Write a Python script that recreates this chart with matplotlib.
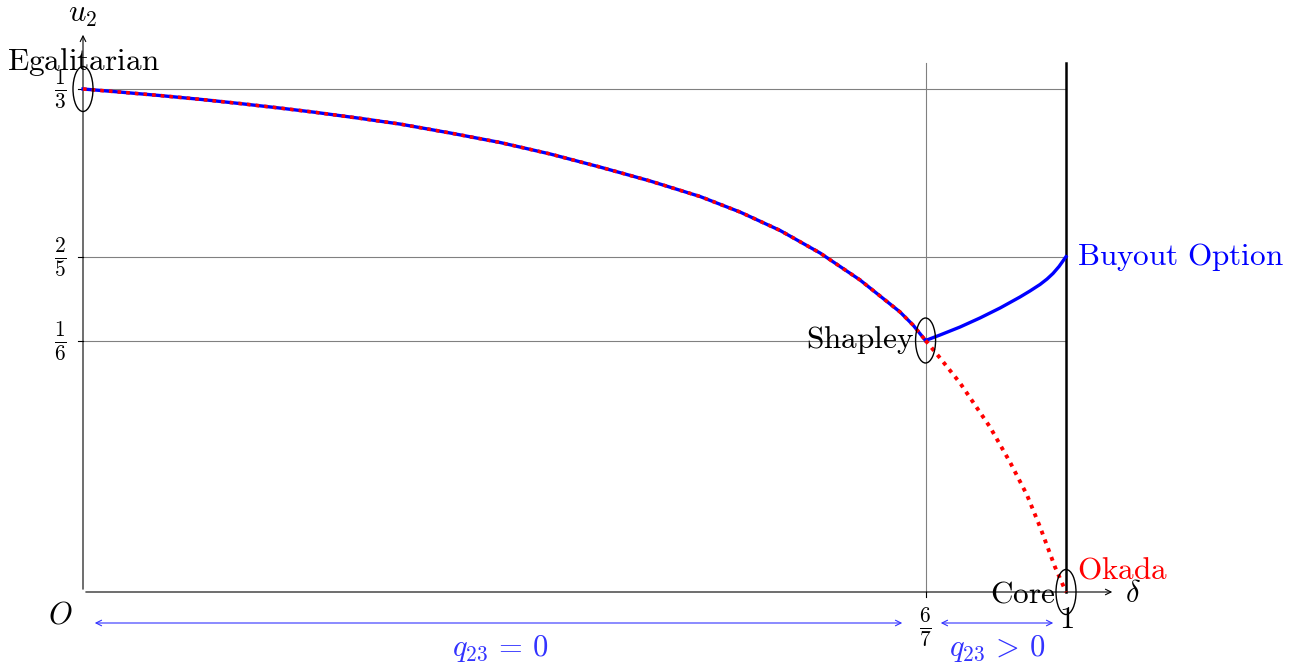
import matplotlib.pyplot as plt
from matplotlib.patches import Ellipse

plt.rcParams['mathtext.fontset'] = 'cm'

# main curve, shared by both solutions (delta, u2)
main_x = [0.0, 0.0376, 0.0783, 0.1190, 0.1597, 0.2004, 0.2360, 0.2818, 0.3225, 0.3734,
          0.4242, 0.4751, 0.5260, 0.5768, 0.6277, 0.6684, 0.7091, 0.7497, 0.7904,
          0.8311, 0.8444, 6/7]
main_y = [1/3, 0.3313, 0.3290, 0.3265, 0.3237, 0.3207, 0.3179, 0.3139, 0.3101, 0.3042,
          0.2979, 0.2903, 0.2816, 0.2724, 0.2621, 0.2518, 0.2396, 0.2247, 0.2068,
          0.1856, 0.1769, 1/6]

# buyout option branch
buy_x = [6/7, 0.8718, 0.8922, 0.9125, 0.9329, 0.9532, 0.9634, 0.9736, 0.9807, 0.9868, 0.9929, 1.0]
buy_y = [1/6, 0.1703, 0.1756, 0.1816, 0.1882, 0.1955, 0.1995, 0.2038, 0.2074, 0.2111, 0.2157, 2/9]

# okada branch
oka_x = [6/7, 0.8718, 0.8922, 0.9227, 0.9430, 0.9603, 0.9736, 0.9888, 1.0]
oka_y = [1/6, 0.1551, 0.1385, 0.1093, 0.0861, 0.0643, 0.0431, 0.0166, 0.0]

ytick_pos = [1/3, 2/9, 1/6]
ytick_lab = [r'$\frac{1}{3}$', r'$\frac{2}{5}$', r'$\frac{1}{6}$']

fig = plt.figure(figsize=(13.14, 6.69), dpi=100)
ax = fig.add_axes([0, 0, 1, 1])
ax.set_xlim(-83/983, (1314-83)/983)
ax.set_ylim((592-669)/1509, 592/1509)
ax.axis('off')

px = 1/983   # one pixel in x
py = 1/1509  # one pixel in y
top = (592-63)*py

# grid lines
for y in ytick_pos:
    ax.plot([0, 1], [y, y], color='#808080', lw=0.8, zorder=1)
ax.plot([6/7, 6/7], [0, top], color='#808080', lw=0.8, zorder=1)

# vertical line at delta = 1
ax.plot([1, 1], [0, top], color='black', lw=1.8, zorder=2)

# axes with arrows
ax.annotate('', xy=(0, (592-32)*py), xytext=(0, 0),
            arrowprops=dict(arrowstyle='->', color='black', lw=0.8))
ax.annotate('', xy=((1115-83)*px, 0), xytext=(0, 0),
            arrowprops=dict(arrowstyle='->', color='black', lw=0.8))
ax.text(0, (592-14)*py, r'$u_2$', fontsize=22, ha='center', va='center')
ax.text((1133-83)*px, (592-594)*py, r'$\delta$', fontsize=22, ha='center', va='center')
ax.text((60-83)*px, (592-615)*py, r'$O$', fontsize=22, ha='center', va='center')

# ticks
for y, lab in zip(ytick_pos, ytick_lab):
    ax.plot([-5*px, 0], [y, y], color='black', lw=0.8)
    ax.text(-23*px, y, lab, fontsize=22, ha='center', va='center')
ax.plot([6/7, 6/7], [0, -5*py], color='black', lw=0.8)
ax.text(6/7, (592-627)*py, r'$\frac{6}{7}$', fontsize=22, ha='center', va='center')
ax.text(1, (592-620)*py, r'$1$', fontsize=22, ha='center', va='center')

# curves
ax.plot(main_x, main_y, color='blue', lw=2.4, zorder=3)
ax.plot(buy_x, buy_y, color='blue', lw=2.4, zorder=3)
ax.plot(main_x, main_y, color='red', lw=2.6, ls=(0, (1, 1.4)), dash_capstyle='butt', zorder=4)
ax.plot(oka_x, oka_y, color='red', lw=2.8, ls=(0, (1, 1.4)), dash_capstyle='butt', zorder=4)

# ellipses around the points
for x, y in [(0, 1/3), (6/7, 1/6), (1, 0)]:
    ax.add_patch(Ellipse((x, y), 20*px, 45*py, fill=False, ec='black', lw=1.0, zorder=5))

# labels
fs = 22.5
ax.text(0, (592-62)*py, r'$\mathrm{Egalitarian}$', fontsize=fs, ha='center', va='center')
ax.text((914-83)*px, 1/6, r'$\mathrm{Shapley}$', fontsize=fs, ha='right', va='center')
ax.text((1077-83)*px, 2/9, r'$\mathrm{Buyout\ Option}$', fontsize=fs, ha='left', va='center', color='blue')
ax.text((1077-83)*px, (592-570)*py, r'$\mathrm{Okada}$', fontsize=fs, ha='left', va='center', color='red')
ax.text((1055-83)*px, (592-594)*py, r'$\mathrm{Core}$', fontsize=fs, ha='right', va='center')

# regions of q23
arrow_col = '#3333ff'
yr = (592-623)*py
ax.annotate('', xy=((92-83)*px, yr), xytext=((905-83)*px, yr),
            arrowprops=dict(arrowstyle='<->', color=arrow_col, lw=0.8))
ax.annotate('', xy=((938-83)*px, yr), xytext=((1056-83)*px, yr),
            arrowprops=dict(arrowstyle='<->', color=arrow_col, lw=0.8))
ax.text((500-83)*px, (592-648)*py, r'$q_{23}\,=\,0$', fontsize=22, ha='center', va='center', color=arrow_col)
ax.text((997-83)*px, (592-648)*py, r'$q_{23}\,>\,0$', fontsize=22, ha='center', va='center', color=arrow_col)

fig.savefig('out.png', dpi=100)
